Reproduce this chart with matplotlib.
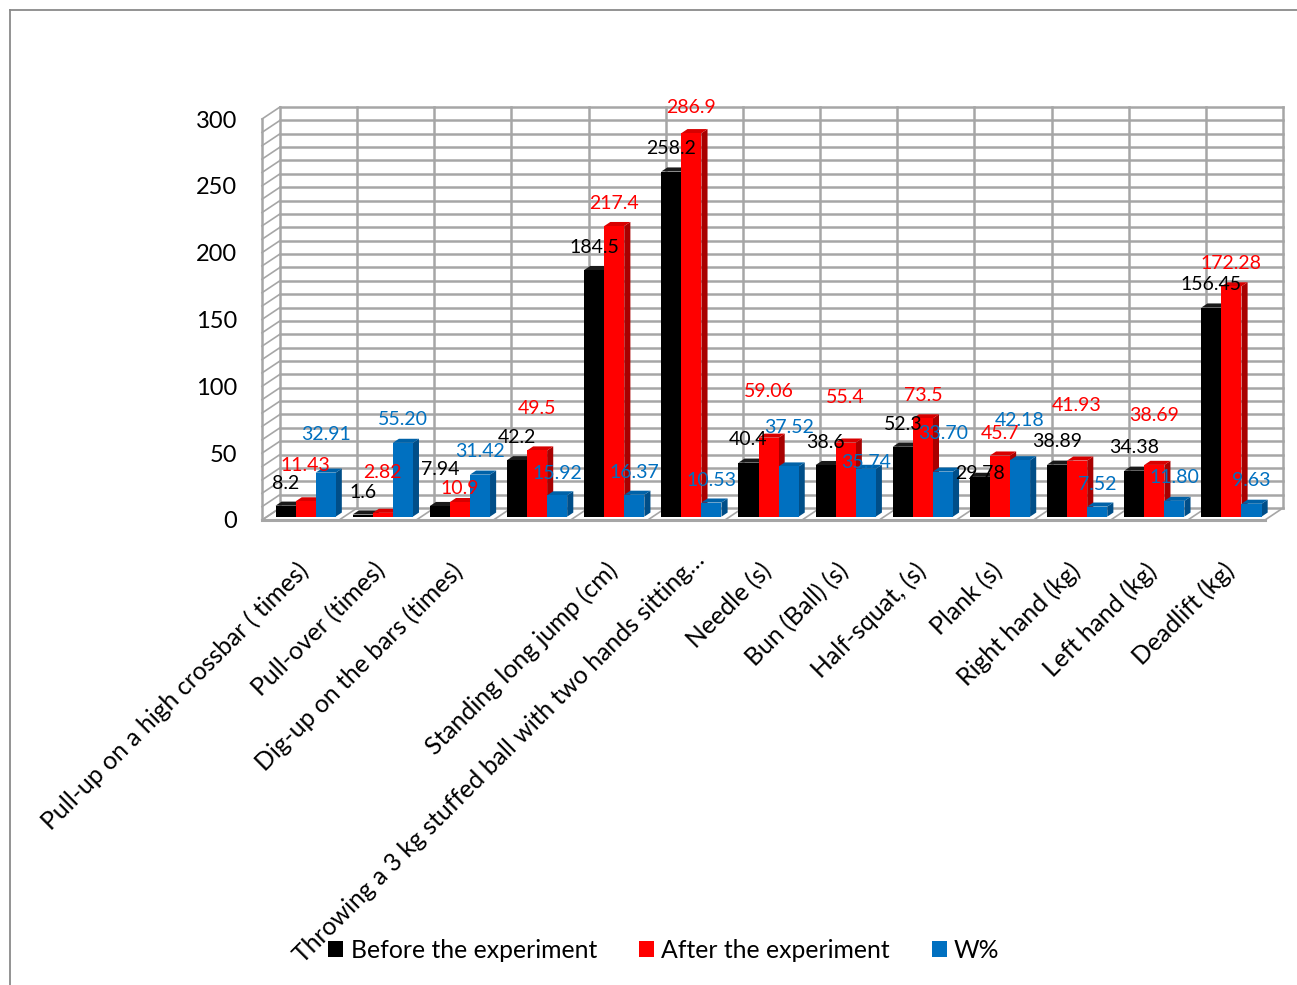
import matplotlib
matplotlib.use("Agg")
import matplotlib.pyplot as plt
from matplotlib.patches import Polygon, Patch
from matplotlib.lines import Line2D

plt.rcParams['font.family'] = ['Lato', 'DejaVu Sans']

# ---------------- data ----------------
categories = [
    "Pull-up on a high crossbar ( times)",
    "Pull-over (times)",
    "Dig-up on the bars (times)",
    "",
    "Standing long jump (cm)",
    "Throwing a 3 kg stuffed ball with two hands sitting\u2026",
    "Needle (s)",
    "Bun (Ball) (s)",
    "Half-squat, (s)",
    "Plank (s)",
    "Right hand (kg)",
    "Left hand (kg)",
    "Deadlift (kg)",
]
before = [8.2, 1.6, 7.94, 42.2, 184.5, 258.2, 40.4, 38.6, 52.3, 29.78, 38.89, 34.38, 156.45]
after = [11.43, 2.82, 10.9, 49.5, 217.4, 286.9, 59.06, 55.4, 73.5, 45.7, 41.93, 38.69, 172.28]
w_pct = [32.91, 55.20, 31.42, 15.92, 16.37, 10.53, 37.52, 35.74, 33.70, 42.18, 7.52, 11.80, 9.63]

before_lbl = ["8.2", "1.6", "7.94", "42.2", "184.5", "258.2", "40.4", "38.6", "52.3", "29.78", "38.89", "34.38", "156.45"]
after_lbl = ["11.43", "2.82", "10.9", "49.5", "217.4", "286.9", "59.06", "55.4", "73.5", "45.7", "41.93", "38.69", "172.28"]
w_lbl = ["32.91", "55.20", "31.42", "15.92", "16.37", "10.53", "37.52", "35.74", "33.70", "42.18", "7.52", "11.80", "9.63"]

series_names = ["Before the experiment", "After the experiment", "W%"]
yticks = [0, 50, 100, 150, 200, 250, 300]

# label vertical offsets above bar tops (pixels) - styling
before_off = [22, 22, 37, 23, 23, 23, 23, 23, 22, 3, 23, 23, 23]
after_off = [36, 40, 14, 42, 23, 26, 46, 45, 23, 22, 55, 49, 23]
w_off = [38, 23, 23, 22, 22, 22, 39, 6, 38, 40, 22, 23, 23]

# ---------------- layout ----------------
W, H = 1297, 985
fig = plt.figure(figsize=(W / 100, H / 100), dpi=100)
fig.patch.set_facecolor('white')

x_left, x_right = 262, 1265
y_bot, y_top = 520, 119
ax = fig.add_axes([x_left / W, (H - y_bot) / H, (x_right - x_left) / W, (y_bot - y_top) / H])
n = len(categories)
ax.set_xlim(-0.5, n - 0.5)
ax.set_ylim(0, 300)
for s in ax.spines.values():
    s.set_visible(False)
ax.patch.set_alpha(0)

PX = (x_right - x_left) / n
PY = (y_bot - y_top) / 300.0
DX = 18 / PX
DY = 12 / PY


def P(x, y, d):
    return (x + DX * d, y + DY * d)


grid_c = '#a6a6a6'
glw = 1.8

# back wall horizontal lines + side wall diagonals
for v in range(0, 301, 10):
    a = P(-0.5, v, 1)
    b = P(n - 0.5, v, 1)
    ax.add_line(Line2D([a[0], b[0]], [a[1], b[1]], color=grid_c, lw=glw, zorder=1, clip_on=False))
    c = P(-0.5, v, 0)
    ax.add_line(Line2D([c[0], a[0]], [c[1], a[1]], color=grid_c, lw=1.2, zorder=1, clip_on=False))
# back wall vertical lines + floor diagonals
for k in range(n + 1):
    xb = k - 0.5
    a = P(xb, 0, 1)
    b = P(xb, 300, 1)
    ax.add_line(Line2D([a[0], b[0]], [a[1], b[1]], color=grid_c, lw=glw, zorder=1, clip_on=False))
    c = P(xb, 0, 0)
    ax.add_line(Line2D([c[0], a[0]], [c[1], a[1]], color=grid_c, lw=1.2, zorder=1, clip_on=False))
# side wall front edge
ax.add_line(Line2D([-0.5, -0.5], [0, 300], color=grid_c, lw=glw, zorder=1, clip_on=False))
# floor front edge
ax.add_line(Line2D([-0.5, n - 0.5], [0, 0], color=grid_c, lw=2.2, zorder=1, clip_on=False))

# ---------------- bars ----------------
series = [before, after, w_pct]
front_c = ['#000000', '#FF0000', '#0070C0']
side_c = ['#000000', '#A80000', '#004E88']
top_c = ['#1a1a1a', '#D80000', '#0062A8']
lbl_c = ['#000000', '#FF0000', '#0070C0']
labels = [before_lbl, after_lbl, w_lbl]
offs = [before_off, after_off, w_off]

bw = 0.26
d0, d1 = 0.28, 0.62

z = 3
for c in range(n):
    for s in range(3):
        h = series[s][c]
        x0 = c - 1.5 * bw + s * bw
        x1 = x0 + bw
        side = [P(x1, 0, d0), P(x1, 0, d1), P(x1, h, d1), P(x1, h, d0)]
        top = [P(x0, h, d0), P(x1, h, d0), P(x1, h, d1), P(x0, h, d1)]
        front = [P(x0, 0, d0), P(x1, 0, d0), P(x1, h, d0), P(x0, h, d0)]
        ax.add_patch(Polygon(side, closed=True, facecolor=side_c[s], edgecolor='none', zorder=z, clip_on=False))
        ax.add_patch(Polygon(top, closed=True, facecolor=top_c[s], edgecolor='none', zorder=z, clip_on=False))
        ax.add_patch(Polygon(front, closed=True, facecolor=front_c[s], edgecolor='none', zorder=z, clip_on=False))
        z += 0.01

# value labels
for s in range(3):
    for c in range(n):
        h = series[s][c]
        xc = c - 1.5 * bw + s * bw + bw / 2
        p = P(xc, h, d0)
        ax.annotate(labels[s][c], xy=p, xytext=(0, offs[s][c] * 0.72), textcoords='offset points',
                    ha='center', va='center', fontsize=14, color=lbl_c[s], zorder=20,
                    annotation_clip=False)

# y tick labels
ax.set_xticks([])
ax.set_yticks(yticks)
ax.set_yticklabels([str(v) for v in yticks], fontsize=17)
ax.tick_params(axis='y', length=0, pad=18)

# category labels
for c, lab in enumerate(categories):
    dxp, dyp = 4, -47
    if c == 5:
        dxp, dyp = 14, -36
    ax.annotate(lab, xy=(c, 0), xytext=(dxp * 0.72, dyp * 0.72), textcoords='offset points',
                rotation=45, rotation_mode='anchor', ha='right', va='center',
                fontsize=17.8, color='black', annotation_clip=False)

# legend
handles = [Patch(facecolor=front_c[i], edgecolor='none') for i in range(3)]
fig.legend(handles, series_names, loc='center', bbox_to_anchor=(664 / W, 1 - 950 / H), ncol=3,
           frameon=False, fontsize=17.8, handlelength=0.6, handleheight=0.6,
           handletextpad=0.3, columnspacing=1.7)

# outer frame (left and top edges visible)
fig.add_artist(Line2D([10 / W, 10 / W], [0, 1 - 10 / H], color='#8a8a8a', lw=1.3, transform=fig.transFigure))
fig.add_artist(Line2D([10 / W, 1], [1 - 10 / H, 1 - 10 / H], color='#8a8a8a', lw=1.3, transform=fig.transFigure))

fig.savefig('out.png', dpi=100, facecolor='white')
